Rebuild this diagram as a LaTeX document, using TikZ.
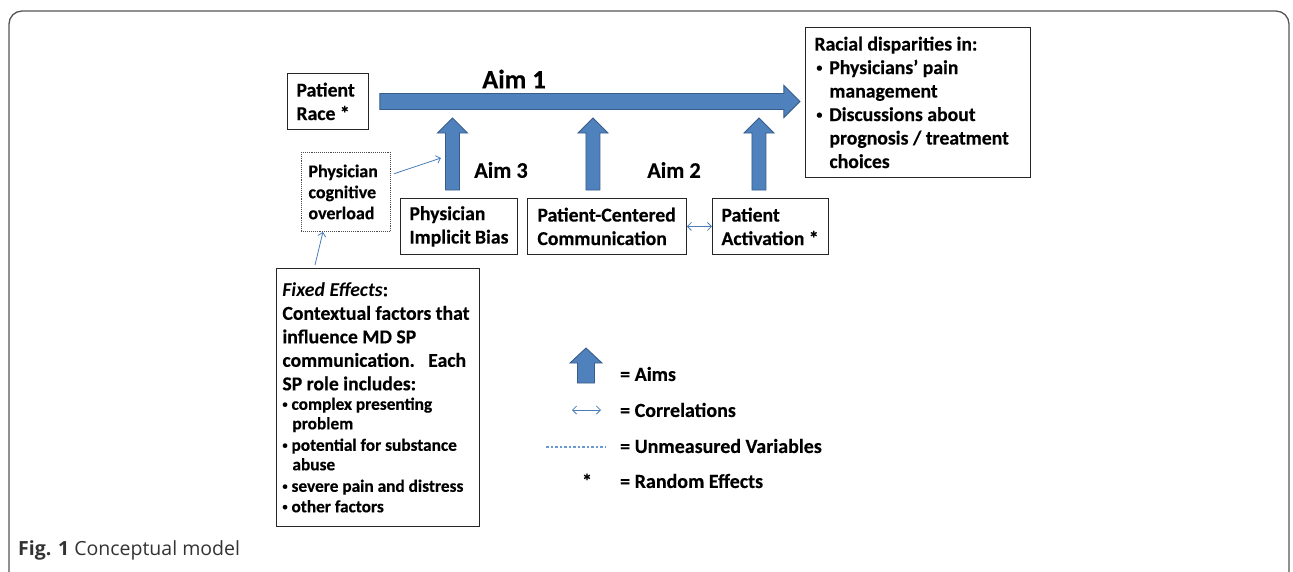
\documentclass[tikz,border=0pt]{standalone}
\usepackage{fontspec}
\setmainfont{Carlito}[BoldFeatures={FakeBold=0.3}]
\newfontfamily\capfont{Open Sans}
\usetikzlibrary{calc,arrows.meta}

\definecolor{aimfill}{HTML}{4F81BD}
\definecolor{aimline}{HTML}{385D8A}
\definecolor{linkblue}{HTML}{4A7EBB}
\definecolor{unmblue}{HTML}{6A98D2}
\definecolor{framegray}{HTML}{555555}

\newcommand\smbullet{\raisebox{0.13em}{\scalebox{0.6}{\textbullet}}}

\tikzset{
 box/.style={draw=black!85, line width=0.9pt, anchor=north west, align=flush left, inner ysep=0pt,
  font=\bfseries\fontsize{19.7}{23.5}\selectfont},
 aimarrow/.style={fill=aimfill, draw=aimline, line width=0.9pt, line join=miter},
 aimlabel/.style={inner sep=0pt, font=\bfseries\fontsize{22.3}{26}\selectfont},
 link/.style={draw=linkblue, line width=0.8pt, -{Straight Barb[length=4pt,width=8pt]}},
 corr/.style={draw=linkblue, line width=0.8pt, {Straight Barb[length=4pt,width=8pt]}-{Straight Barb[length=4pt,width=8pt]}},
 unm/.style={draw=unmblue, line width=1.1pt, dash pattern=on 2.5pt off 2pt},
 legend/.style={anchor=west, inner sep=0pt, font=\bfseries\fontsize{20}{23}\selectfont}
}

\begin{document}
\begin{tikzpicture}[x=1pt,y=-1pt]
 \useasboundingbox (0,0) rectangle (1293,571);
 \clip (0,0) rectangle (1293,571);
 \fill[white] (0,0) rectangle (1293,571);
 \draw[framegray, line width=1.3pt, rounded corners=13pt] (9,11) rectangle (1289,585);

	% Boites
 \node[box, minimum width=81pt, minimum height=56pt, text width=63pt, inner xsep=9pt] (race) at (287,73) {Patient\\Race *};
 \node[box, minimum width=117pt, minimum height=56pt, text width=99pt, inner xsep=9pt] (pib) at (400,198) {Physician\\Implicit Bias};
 \node[box, minimum width=159pt, minimum height=56pt, text width=139pt, inner xsep=10pt] (pcc) at (527,198) {Patient-Centered\\Communication};
 \node[box, minimum width=116pt, minimum height=56pt, text width=98pt, inner xsep=9pt] (act) at (712,198) {Patient\\Activation *};
 \node[box, minimum width=225pt, minimum height=150pt, text width=207pt, inner xsep=9pt] (disp) at (805,27) {Racial disparities in:\\\hspace*{2pt}\smbullet\hspace{7pt}Physicians’ pain\\\hspace*{15pt}management\\\hspace*{2pt}\smbullet\hspace{7pt}Discussions about\\\hspace*{15pt}prognosis / treatment\\\hspace*{15pt}choices};
 \node[box, draw=black!70, densely dotted, font=\bfseries\fontsize{18}{21}\selectfont, minimum width=89pt, minimum height=79pt, text width=75pt, inner xsep=7pt] (cog) at (301,152) {Physician\\cognitive\\overload};
 \node[box, minimum width=203pt, minimum height=258pt, text width=191pt, inner xsep=6pt] (fix) at (276,268) {{\textit{Fixed Effects}:\\Contextual factors that\\influence MD SP\\communication.\ \ \ Each\\SP role includes:\par}{\fontsize{17.3}{19.5}\selectfont \smbullet\ complex presenting\\\hspace*{10pt}problem\\[2pt]\smbullet\ potential for substance\\\hspace*{10pt}abuse\\[2pt]\smbullet\ severe pain and distress\\[1pt]\smbullet\ other factors\par}};

	% Fleches des objectifs
 \filldraw[aimarrow, shift={($(race.east)+(11,0)$)}] (0,-8) -- (404,-8) -- (404,-16) -- (420,0) -- (404,16) -- (404,8) -- (0,8) -- cycle;
 \foreach \b/\dx in {pib/-6.5, pcc/-14, act/-11.5}
  \filldraw[aimarrow, shift={($(\b.north)+(\dx,-8)$)}] (-7,0) -- (-7,-57) -- (-15,-57) -- (0,-72) -- (15,-57) -- (7,-57) -- (7,0) -- cycle;

 \node[aimlabel, font=\bfseries\fontsize{26.5}{30}\selectfont] (aim1) at (514,79) {Aim 1};
 \node[aimlabel] (aim3) at (501,170) {Aim 3};
 \node[aimlabel] (aim2) at (674,170) {Aim 2};

	% Liens
 \coordinate (a3in) at ($(pib.north)+(-18,-40)$);
 \draw[link] ([shift={(3,0)}]cog.22) -- (a3in);
 \draw[link] ([shift={(39,-3)}]fix.north west) -- ([shift={(-23,0)}]cog.south);
 \draw[corr] (pcc.east) -- (act.west);

	% Legende
 \node[legend] (lgaims) at (620,374) {= Aims};
 \node[legend] (lgcor) at (620,410) {= Correlations};
 \node[legend] (lgunm) at (620,446) {= Unmeasured Variables};
 \node[legend] (lgran) at (620,481) {= Random Effects};
 \filldraw[aimarrow, shift={($(lgaims.west)+(-34,9)$)}] (-8.5,0) -- (-8.5,-20) -- (-16,-20) -- (0,-35) -- (16,-20) -- (8.5,-20) -- (8.5,0) -- cycle;
 \draw[corr] ($(lgcor.west)+(-48,0)$) -- ($(lgcor.west)+(-19,0)$);
 \draw[unm] ($(lgunm.west)+(-74,1)$) -- ($(lgunm.west)+(-14,1)$);
 \node[legend, anchor=base] (lgstar) at ($(lgran.base west)+(-33,0)$) {*};

	% Legende de la figure
 \node[anchor=base west, inner sep=0pt, text=black!80, font=\capfont\fontsize{19.5}{23}\selectfont] (cap) at (18,555) {\textbf{Fig. 1} Conceptual model};
\end{tikzpicture}
\end{document}
